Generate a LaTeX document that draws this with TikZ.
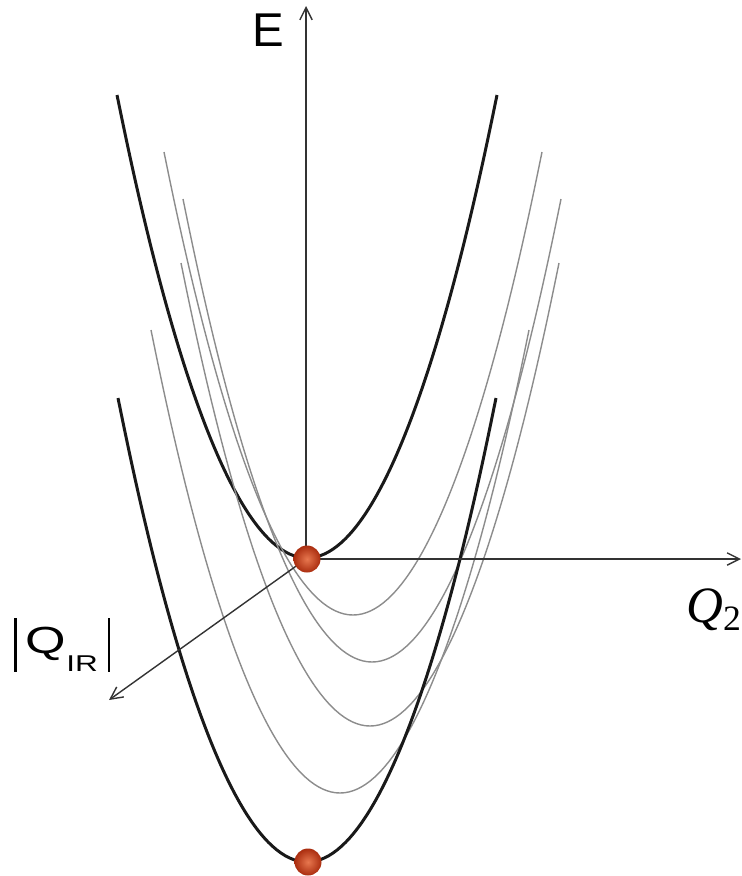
\documentclass[tikz,border=0pt]{standalone}
\usepackage{graphicx}
\usepackage{fontspec}
\setmainfont{Liberation Sans}
\newfontfamily\timesfont{Liberation Serif}
\usetikzlibrary{arrows.meta}
\definecolor{ballred}{RGB}{225,85,35}
\definecolor{ballrim}{RGB}{170,45,15}
\newcommand{\absbar}{\vrule width 0.9pt height 19.8pt depth 10.8pt}

\begin{document}
\begin{tikzpicture}[
      x=0.02cm, y=-0.02cm,
      >={Straight Barb[length=7pt,width=7pt]},
      bold/.style={line width=1.7pt, black!90},
      level/.style={line width=0.8pt, black!45},
      axis/.style={->, line width=0.8pt, black!80},
      ball/.style={circle, shading=radial, inner color=ballred!80!white, outer color=ballrim,
        minimum size=0.54cm, inner sep=0pt}
    ]
    \useasboundingbox (0,0) rectangle (742,876);

    % energy curves
    \draw[bold]  (117,95)  parabola bend (307,558) (497,95);
    \draw[level] (164,152) parabola bend (353,615) (542,152);
    \draw[level] (183,199) parabola bend (372,662) (561,199);
    \draw[level] (181,263) parabola bend (370,726) (559,263);
    \draw[level] (151,330) parabola bend (340,793) (529,330);
    \draw[bold]  (118,398) parabola bend (307,862) (496,398);

    % axes
    \coordinate (O)   at (306,559);
    \coordinate (Etip) at (306,6);
    \coordinate (Qtip) at (741,559);
    \coordinate (Rtip) at (109,700);
    \draw[axis] (O) -- (Etip);
    \draw[axis] (O) -- (Qtip);
    \draw[axis] (O) -- (Rtip);

    \node (elabel) at (268,30) {\fontsize{27}{27}\selectfont E};
    \node[anchor=base west, inner sep=0pt] (q2label) at (686,622)
      {\fontsize{29}{29}\selectfont\timesfont\textit{Q}\textsubscript{2}};
    \node[anchor=base west, inner sep=0pt] (qirlabel) at (14,653)
      {\scalebox{1.38}[1]{\absbar\hspace{3.5pt}\fontsize{21.5}{21.5}\selectfont Q\hspace{0.3pt}%
        \raisebox{-10.8pt}{\fontsize{13}{13}\selectfont IR}\hspace{4pt}\absbar}};

    % minima
    \node[ball] (upper) at (307,559) {};
    \node[ball] (lower) at (308,862) {};
  \end{tikzpicture}
\end{document}
